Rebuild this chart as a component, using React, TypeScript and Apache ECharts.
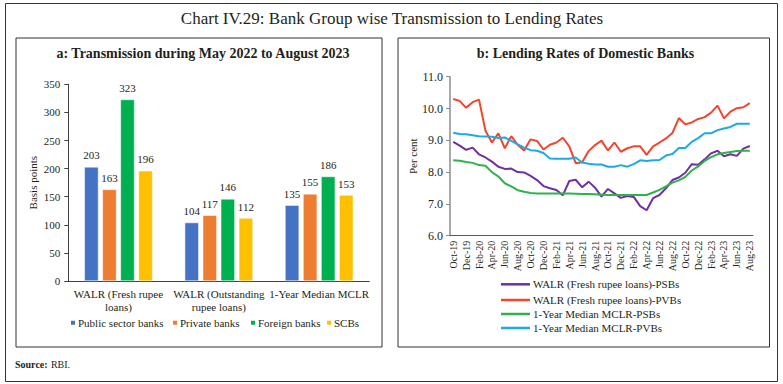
import React, { useEffect, useRef } from "react";
import * as echarts from "echarts";

const barCategories = ["WALR (Fresh rupee\nloans)", "WALR (Outstanding\nrupee loans)", "1-Year Median MCLR"];
const barSeriesNames = ["Public sector banks", "Private banks", "Foreign banks", "SCBs"];
const psbBars = [203, 104, 135];
const pvbBars = [163, 117, 155];
const foreignBars = [323, 146, 186];
const scbBars = [196, 112, 153];
const barColors = ["#4472C4", "#ED7D31", "#00B050", "#FFC000"];
const leftYTicks = [0, 350, 50];

const months = [
  "Oct-19", "Nov-19", "Dec-19",
  "Jan-20", "Feb-20", "Mar-20", "Apr-20", "May-20", "Jun-20", "Jul-20", "Aug-20", "Sep-20", "Oct-20", "Nov-20", "Dec-20",
  "Jan-21", "Feb-21", "Mar-21", "Apr-21", "May-21", "Jun-21", "Jul-21", "Aug-21", "Sep-21", "Oct-21", "Nov-21", "Dec-21",
  "Jan-22", "Feb-22", "Mar-22", "Apr-22", "May-22", "Jun-22", "Jul-22", "Aug-22", "Sep-22", "Oct-22", "Nov-22", "Dec-22",
  "Jan-23", "Feb-23", "Mar-23", "Apr-23", "May-23", "Jun-23", "Jul-23", "Aug-23",
];
const lineNames = [
  "WALR (Fresh rupee loans)-PSBs",
  "WALR (Fresh rupee loans)-PVBs",
  "1-Year Median MCLR-PSBs",
  "1-Year Median MCLR-PVBs",
];
const walrPSB = [8.95, 8.83, 8.7, 8.77, 8.56, 8.46, 8.33, 8.17, 8.1, 8.11, 8.0, 7.99, 7.88, 7.75, 7.56, 7.49, 7.44, 7.27, 7.72, 7.76, 7.52, 7.7, 7.51, 7.23, 7.47, 7.33, 7.19, 7.25, 7.22, 6.93, 6.8, 7.18, 7.28, 7.49, 7.75, 7.83, 7.98, 8.25, 8.23, 8.4, 8.59, 8.67, 8.5, 8.56, 8.51, 8.74, 8.82];
const walrPVB = [10.3, 10.24, 10.02, 10.2, 10.28, 9.3, 8.93, 9.22, 8.75, 9.13, 8.86, 8.68, 9.03, 8.98, 8.71, 8.86, 8.93, 9.08, 8.81, 8.28, 8.31, 8.66, 8.85, 8.99, 8.68, 8.93, 8.64, 8.75, 8.81, 8.81, 8.54, 8.81, 8.93, 9.06, 9.23, 9.7, 9.5, 9.56, 9.67, 9.73, 9.87, 10.09, 9.69, 9.9, 10.01, 10.04, 10.17];
const mclrPSB = [8.37, 8.36, 8.32, 8.29, 8.22, 8.2, 8.0, 7.86, 7.65, 7.55, 7.43, 7.38, 7.34, 7.33, 7.33, 7.33, 7.33, 7.33, 7.33, 7.32, 7.31, 7.31, 7.3, 7.29, 7.28, 7.28, 7.28, 7.28, 7.28, 7.28, 7.28, 7.36, 7.44, 7.55, 7.67, 7.74, 7.85, 8.05, 8.18, 8.35, 8.47, 8.56, 8.6, 8.63, 8.66, 8.67, 8.67];
const mclrPVB = [9.24, 9.2, 9.19, 9.16, 9.13, 9.12, 9.11, 9.07, 9.09, 8.98, 8.87, 8.77, 8.69, 8.67, 8.6, 8.43, 8.42, 8.42, 8.42, 8.46, 8.3, 8.26, 8.24, 8.24, 8.17, 8.17, 8.22, 8.17, 8.25, 8.37, 8.35, 8.37, 8.38, 8.52, 8.57, 8.76, 8.76, 8.95, 9.07, 9.22, 9.22, 9.32, 9.37, 9.42, 9.52, 9.52, 9.52];
const lineColors = ["#7030A0", "#F2452F", "#2DB34A", "#1AABE3"];
const rightYTicks = [6, 11, 1];

const FONT = "Liberation Serif";
const TXT = "#231F20";

export default function App() {
  const ref = useRef<HTMLDivElement>(null);
  useEffect(() => {
    if (!ref.current) return;
    const chart = echarts.init(ref.current, undefined, { renderer: "svg" });
    const barData = [psbBars, pvbBars, foreignBars, scbBars];
    const lineData = [walrPSB, walrPVB, mclrPSB, mclrPVB];
    const leftLegendX = [69, 171, 249, 325];
    const rightLegendY = [284.3, 300, 314, 328];

    const legends: any[] = [];
    barSeriesNames.forEach((n, i) => {
      legends.push({
        data: [n],
        left: leftLegendX[i],
        top: 322.7 - 7,
        icon: "rect",
        itemWidth: 6,
        itemHeight: 6,
        selectedMode: false,
        padding: 0,
        textStyle: { fontFamily: FONT, fontSize: 11, color: TXT, lineHeight: 14, padding: [0, 0, 0, -3] },
      });
    });
    lineNames.forEach((n, i) => {
      legends.push({
        data: [n],
        left: 501,
        top: rightLegendY[i] - 7,
        icon: "rect",
        itemWidth: 29,
        itemHeight: 2.5,
        selectedMode: false,
        padding: 0,
        textStyle: { fontFamily: FONT, fontSize: 11, color: TXT, lineHeight: 14, padding: [0, 0, 0, -2] },
      });
    });

    const option: any = {
      animation: false,
      backgroundColor: "#fff",
      textStyle: { fontFamily: FONT },
      legend: legends,
      grid: [
        { left: 68.3, top: 84.3, width: 301, height: 196.7 },
        { left: 450, top: 76.7, width: 303, height: 159 },
      ],
      xAxis: [
        {
          type: "category",
          gridIndex: 0,
          data: barCategories,
          axisLine: { lineStyle: { color: "#404040", width: 1 } },
          axisTick: { length: 5, lineStyle: { color: "#404040" } },
          axisLabel: { fontFamily: FONT, fontSize: 11, color: TXT, lineHeight: 13.3, margin: 6, interval: 0 },
        },
        {
          type: "category",
          gridIndex: 1,
          data: months,
          boundaryGap: true,
          axisLine: { lineStyle: { color: "#595959", width: 1 } },
          axisTick: { length: 3, alignWithLabel: true, interval: 0, lineStyle: { color: "#595959" } },
          axisLabel: { fontFamily: FONT, fontSize: 10, color: TXT, rotate: 90, interval: 1, margin: 5 },
        },
      ],
      yAxis: [
        {
          type: "value",
          gridIndex: 0,
          min: leftYTicks[0],
          max: leftYTicks[1],
          interval: leftYTicks[2],
          name: "Basis points",
          nameLocation: "middle",
          nameRotate: 90,
          nameGap: 30,
          nameTextStyle: { fontFamily: FONT, fontSize: 11, color: TXT },
          splitLine: { show: false },
          axisLine: { show: true, lineStyle: { color: "#404040", width: 1 } },
          axisTick: { show: true, length: 4, lineStyle: { color: "#404040" } },
          axisLabel: { fontFamily: FONT, fontSize: 11, color: TXT, margin: 8 },
        },
        {
          type: "value",
          gridIndex: 1,
          min: rightYTicks[0],
          max: rightYTicks[1],
          interval: rightYTicks[2],
          name: "Per cent",
          nameLocation: "middle",
          nameRotate: 90,
          nameGap: 29,
          nameTextStyle: { fontFamily: FONT, fontSize: 11, color: TXT },
          splitLine: { show: false },
          axisLine: { show: true, lineStyle: { color: "#8C8C8C", width: 1.5 } },
          axisTick: { show: true, length: 4, lineStyle: { color: "#8C8C8C" } },
          axisLabel: { fontFamily: FONT, fontSize: 12, color: TXT, margin: 7, formatter: (v: number) => v.toFixed(1) },
        },
      ],
      series: [
        ...barSeriesNames.map((n, i) => ({
          name: n,
          type: "bar",
          xAxisIndex: 0,
          yAxisIndex: 0,
          data: barData[i],
          barGap: "28%",
          barCategoryGap: "32%",
          itemStyle: { color: barColors[i], borderColor: "#fff", borderWidth: 0.5 },
          label: { show: true, position: "top", distance: 6, fontFamily: FONT, fontSize: 11, color: TXT },
        })),
        ...lineNames.map((n, i) => ({
          name: n,
          type: "line",
          xAxisIndex: 1,
          yAxisIndex: 1,
          data: lineData[i],
          symbol: "none",
          showSymbol: false,
          itemStyle: { color: lineColors[i] },
          lineStyle: { color: lineColors[i], width: 2 },
        })),
      ],
      graphic: [
        { type: "rect", shape: { x: 5.5, y: 3.5, width: 772, height: 378 }, style: { fill: "none", stroke: "#333", lineWidth: 1 }, silent: true },
        { type: "rect", shape: { x: 16, y: 38, width: 366, height: 309 }, style: { fill: "none", stroke: "#333", lineWidth: 1 }, silent: true },
        { type: "rect", shape: { x: 398, y: 38, width: 371.5, height: 309 }, style: { fill: "none", stroke: "#333", lineWidth: 1 }, silent: true },
        {
          type: "text", x: 392, y: 18,
          style: { text: "Chart IV.29: Bank Group wise Transmission to Lending Rates", fontFamily: FONT, fontSize: 17, fill: TXT, textAlign: "center", textVerticalAlign: "middle" },
        },
        {
          type: "text", x: 203, y: 53,
          style: { text: "a: Transmission during May 2022 to August 2023", fontFamily: FONT, fontSize: 14, fontWeight: "bold", fill: TXT, textAlign: "center", textVerticalAlign: "middle" },
        },
        {
          type: "text", x: 585.5, y: 53,
          style: { text: "b: Lending Rates of Domestic Banks", fontFamily: FONT, fontSize: 14, fontWeight: "bold", fill: TXT, textAlign: "center", textVerticalAlign: "middle" },
        },
        {
          type: "text", x: 15, y: 364,
          style: {
            text: "{b|Source:} {n|RBI.}",
            rich: {
              b: { fontFamily: FONT, fontSize: 10, fontWeight: "bold", fill: TXT },
              n: { fontFamily: FONT, fontSize: 10, fill: TXT },
            },
            textVerticalAlign: "middle",
          },
        },
      ],
    };
    chart.setOption(option);
    return () => chart.dispose();
  }, []);
  return <div ref={ref} style={{ position: "absolute", left: 0, top: 0, width: 783, height: 384 }} />;
}
